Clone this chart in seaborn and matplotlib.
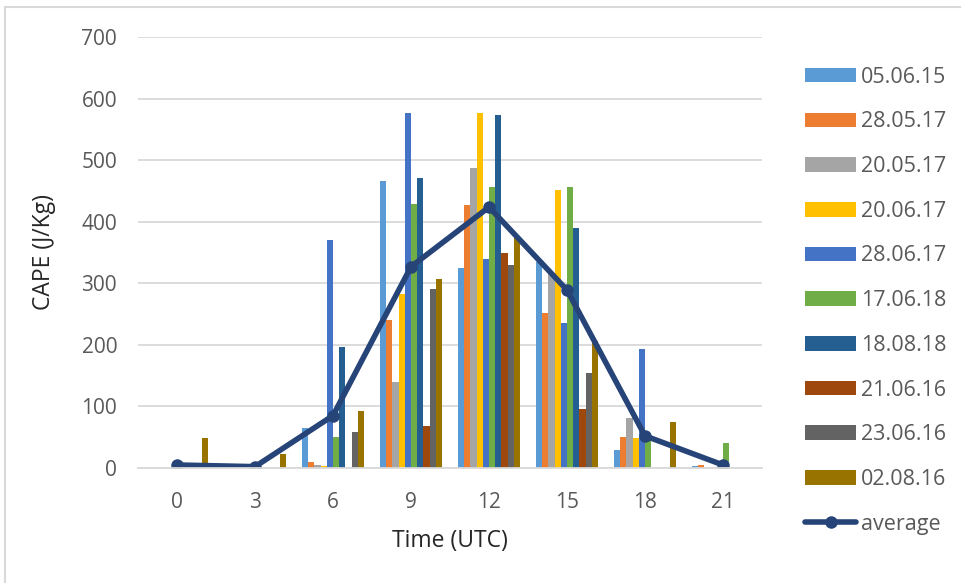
import numpy as np
import pandas as pd
import seaborn as sns
import matplotlib.pyplot as plt
from matplotlib.patches import Rectangle

# Time steps (UTC) and CAPE values (J/Kg) per event date
times = ['0', '3', '6', '9', '12', '15', '18', '21']
dates = ['05.06.15', '28.05.17', '20.05.17', '20.06.17', '28.06.17',
         '17.06.18', '18.08.18', '21.06.16', '23.06.16', '02.08.16']

cape_050615 = [0, 0, 65, 466, 325, 335, 29, 4]
cape_280517 = [0, 0, 10, 240, 427, 251, 51, 5]
cape_200517 = [0, 0, 5, 140, 487, 316, 81, 0]
cape_200617 = [0, 0, 3, 283, 576, 451, 48, 0]
cape_280617 = [0, 0, 370, 576, 339, 235, 193, 0]
cape_170618 = [0, 0, 51, 428, 457, 457, 46, 40]
cape_180818 = [0, 0, 196, 471, 574, 389, 0, 0]
cape_210616 = [0, 0, 0, 68, 349, 96, 0, 0]
cape_230616 = [0, 0, 59, 290, 330, 155, 0, 0]
cape_020816 = [49, 22, 92, 307, 373, 206, 74, 0]

series = [cape_050615, cape_280517, cape_200517, cape_200617, cape_280617,
          cape_170618, cape_180818, cape_210616, cape_230616, cape_020816]

colors = ['#5B9BD5', '#ED7D31', '#A5A5A5', '#FFC000', '#4472C4',
          '#70AD47', '#255E91', '#9E480E', '#636363', '#997300']
line_color = '#264478'

# long table for seaborn
rows = []
for d, vals in zip(dates, series):
    for t, v in zip(times, vals):
        rows.append({'Time': t, 'Date': d, 'CAPE': v})
df = pd.DataFrame(rows)
average = np.mean(np.array(series), axis=0)

sns.set_style('white')
plt.rcParams['font.family'] = ['Open Sans', 'DejaVu Sans']
txt = '#595959'

fig = plt.figure(figsize=(9.62, 5.83), dpi=100)
ax = fig.add_axes([138 / 962, 115 / 583, 624 / 962, 431 / 583])

sns.barplot(data=df, x='Time', y='CAPE', hue='Date', order=times,
            hue_order=dates, palette=colors, width=0.8, saturation=1,
            errorbar=None, linewidth=0, ax=ax)
sns.lineplot(x=np.arange(len(times)), y=average, color=line_color,
             linewidth=4, marker='o', markersize=9, markeredgewidth=0,
             label='average', ax=ax)

ax.set_xlim(-0.5, len(times) - 0.5)
ax.set_ylim(0, 700)
ax.set_yticks(range(0, 701, 100))
ax.yaxis.grid(True, color='#D9D9D9', linewidth=1.3)
ax.set_axisbelow(True)
for s in ['top', 'right', 'left']:
    ax.spines[s].set_visible(False)
ax.spines['bottom'].set_color('#D9D9D9')
ax.spines['bottom'].set_linewidth(1.3)
ax.tick_params(axis='both', length=0, labelsize=15, labelcolor=txt)
ax.tick_params(axis='x', pad=17)
ax.tick_params(axis='y', pad=15)
ax.set_xlabel('Time (UTC)', fontsize=16.5, color='#262626', labelpad=12)
ax.set_ylabel('CAPE (J/Kg)', fontsize=16.5, color='#262626', labelpad=18)

handles, labels = ax.get_legend_handles_labels()
ax.legend(handles, labels, loc='upper left', bbox_to_anchor=(794 / 962, 1 - 56 / 583),
          bbox_transform=fig.transFigure, frameon=False, fontsize=15.5,
          labelcolor=txt, labelspacing=1.1, handlelength=2.4,
          handleheight=0.66, handletextpad=0.2, borderpad=0)

# light chart-area border
fig.patches.append(Rectangle((5 / 962, -0.1), 1.2, 1 - 7 / 583 + 0.1,
                             transform=fig.transFigure, fill=False,
                             edgecolor='#D9D9D9', linewidth=1.5))

fig.savefig('out.png', dpi=100)
